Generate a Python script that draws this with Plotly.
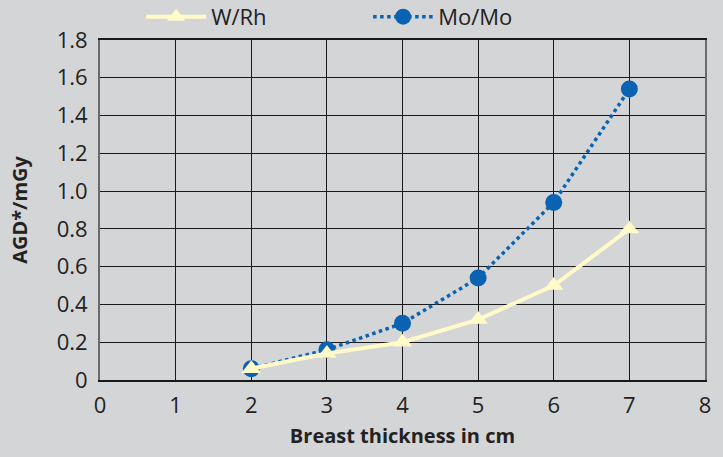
import plotly.graph_objects as go

thickness = [2, 3, 4, 5, 6, 7]
w_rh = [0.06, 0.14, 0.20, 0.32, 0.50, 0.80]
mo_mo = [0.06, 0.16, 0.30, 0.54, 0.94, 1.54]
x_ticks = [0, 1, 2, 3, 4, 5, 6, 7, 8]
y_ticks = [0, 0.2, 0.4, 0.6, 0.8, 1.0, 1.2, 1.4, 1.6, 1.8]
y_labels = ["0", "0.2", "0.4", "0.6", "0.8", "1.0", "1.2", "1.4", "1.6", "1.8"]

BG = "#d4d5d7"
FONT = "Open Sans"

fig = go.Figure()
fig.add_trace(go.Scatter(
    x=thickness, y=mo_mo, name="Mo/Mo", mode="lines+markers",
    line=dict(color="#0a62b2", width=3.5, dash="dot"),
    marker=dict(symbol="circle", size=17, color="#0a62b2"),
    legendrank=2,
))
fig.add_trace(go.Scatter(
    x=thickness, y=w_rh, name="W/Rh", mode="lines+markers",
    line=dict(color="#fffac8", width=4),
    marker=dict(symbol="triangle-up", size=17, color="#fffac8"),
    legendrank=1,
))

fig.update_layout(
    width=723, height=457,
    paper_bgcolor=BG, plot_bgcolor=BG,
    margin=dict(l=100, r=18, t=40, b=77, autoexpand=False),
    font=dict(family=FONT, color="#222222", size=22),
    showlegend=True,
    legend=dict(
        orientation="h", xref="paper", yref="paper",
        x=0.068, y=1.068, xanchor="left", yanchor="middle",
        bgcolor="rgba(0,0,0,0)", font=dict(size=22, family=FONT),
        entrywidth=152, itemwidth=60, traceorder="normal",
    ),
    xaxis=dict(
        range=[0, 8], tickvals=x_ticks, showgrid=True, gridcolor="#1a1a1a", gridwidth=1.2,
        showline=True, linecolor="#1a1a1a", linewidth=1.5, mirror=True,
        zeroline=False, ticks="", ticklen=0, ticklabelstandoff=5,
        title=dict(text="<b>Breast thickness in cm</b>", font=dict(size=20, family=FONT), standoff=11),
        tickfont=dict(size=22),
    ),
    yaxis=dict(
        range=[0, 1.8], tickvals=y_ticks, ticktext=y_labels, showgrid=True, gridcolor="#1a1a1a", gridwidth=1.2,
        showline=True, linecolor="#6a6a6a", linewidth=2, mirror=True,
        zeroline=False, ticks="", ticklabelstandoff=6,
        title=dict(text="<b>AGD*/mGy</b>", font=dict(size=20, family=FONT), standoff=24),
        tickfont=dict(size=22),
    ),
)

fig.write_html("out.html", config={"displayModeBar": False},
               post_script="document.body.style.margin='0';")
